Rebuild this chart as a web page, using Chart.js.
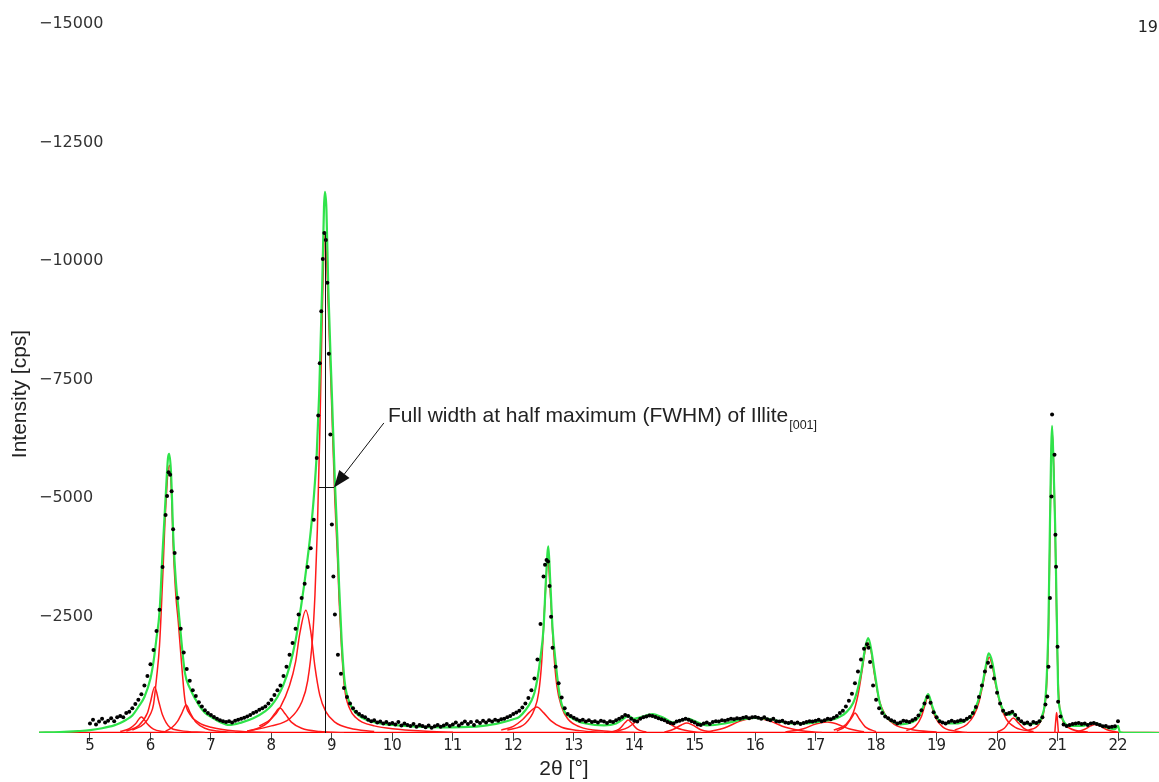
<!DOCTYPE html>
<html>
<head>
<meta charset="utf-8">
<title>XRD pattern</title>
<script src="https://cdn.jsdelivr.net/npm/chart.js@4.4.1/dist/chart.umd.min.js"></script>
<style>
  html, body { margin: 0; padding: 0; background: #fff; }
  #wrap { width: 1159px; height: 782px; }
</style>
</head>
<body>
<div id="wrap"><canvas id="xrd" width="1159" height="782"></canvas></div>
<script>
// --- axis ticks ---
const xTickValues = [5, 6, 7, 8, 9, 10, 11, 12, 13, 14, 15, 16, 17, 18, 19, 20, 21, 22];
const yTickValues = [0, 2500, 5000, 7500, 10000, 12500, 15000];
const yTickLabels = ['', '\u22122500', '\u22125000', '\u22127500', '\u221210000', '\u221212500', '\u221215000'];

// --- measured counts (scan start / step in degrees 2theta) ---
const scanStart = 5.0;
const scanStep = 0.05;
const counts = [
  200, 280, 180, 240, 300, 220, 260, 310, 250, 330, 360, 330, 420, 450, 520, 610, 700, 820, 1000, 1200,
  1450, 1750, 2150, 2600, 3500, 4600, 5500, 5100, 3800, 2850, 2200, 1700, 1350, 1100, 900, 780, 650, 560, 480, 420,
  380, 340, 300, 270, 250, 230, 250, 220, 260, 280, 300, 320, 350, 380, 420, 450, 490, 520, 560, 620,
  700, 800, 900, 1000, 1200, 1400, 1650, 1900, 2200, 2500, 2850, 3150, 3500, 3900, 4500, 5800, 7800, 10000, 10400, 8000,
  4400, 2500, 1650, 1250, 950, 760, 620, 520, 450, 400, 360, 330, 280, 250, 270, 220, 240, 200, 230, 190,
  210, 180, 230, 160, 200, 170, 150, 190, 130, 170, 150, 120, 160, 110, 140, 170, 130, 160, 190, 150,
  180, 220, 160, 200, 240, 190, 230, 170, 250, 210, 260, 220, 270, 240, 280, 260, 290, 300, 330, 360,
  400, 430, 470, 540, 620, 740, 900, 1150, 1550, 2300, 3300, 3650, 3100, 1800, 1400, 1050, 750, 520, 400, 360,
  320, 290, 260, 280, 240, 270, 230, 250, 220, 260, 240, 210, 250, 230, 270, 300, 340, 380, 360, 300,
  260, 240, 300, 330, 350, 370, 360, 340, 310, 290, 270, 230, 210, 200, 240, 260, 280, 300, 280, 250,
  220, 180, 170, 200, 220, 190, 230, 250, 240, 270, 260, 280, 300, 290, 310, 300, 320, 340, 310, 330,
  340, 320, 300, 330, 290, 270, 300, 250, 240, 260, 220, 210, 230, 200, 220, 190, 210, 230, 250, 240,
  260, 280, 250, 270, 300, 290, 320, 360, 420, 470, 560, 680, 830, 1050, 1300, 1550, 1780, 1870, 1500, 1000,
  700, 520, 420, 350, 310, 270, 240, 200, 220, 260, 250, 230, 270, 300, 370, 480, 620, 760, 640, 440,
  330, 250, 220, 200, 230, 260, 230, 250, 270, 260, 300, 340, 420, 550, 760, 1000, 1300, 1480, 1400, 1150,
  850, 620, 470, 400, 420, 450, 380, 300, 250, 200, 220, 180, 230, 210, 250, 330, 600, 1400, 4990, 5870,
  1820, 350, 180, 150, 170, 190, 200, 210, 190, 200, 170, 200, 210, 190, 170, 140, 150, 120, 130, 140,
  250
];
// extra scan points on the steep peak flanks
const flankPoints = [
  [6.275, 5000], [6.325, 5450], [6.375, 4300],
  [8.775, 6700], [8.825, 8900], [8.875, 10550], [8.925, 9500], [8.975, 6300], [9.025, 3300],
  [12.525, 3550], [12.575, 3620], [12.625, 2450], [17.875, 1800],
  [20.83, 770], [20.875, 2850], [20.91, 6720], [20.965, 4180], [20.975, 3510], [21.01, 660]
];

// --- fitted profile (green) ---
const fitCurve = [
  [4.157, 10], [4.5, 20], [4.8, 40], [5.0, 60], [5.2, 100], [5.4, 160], [5.5, 210], [5.6, 280], [5.7, 370],
  [5.8, 550], [5.9, 760], [6.0, 1150], [6.05, 1500], [6.1, 2000], [6.15, 2550], [6.2, 3800], [6.25, 4950],
  [6.29, 5800], [6.31, 5890], [6.34, 5500], [6.38, 4070], [6.42, 3200], [6.46, 2660], [6.5, 2100], [6.57, 1270],
  [6.65, 950], [6.75, 700], [6.82, 550], [6.9, 430], [7.0, 340], [7.15, 230], [7.3, 170], [7.5, 220], [7.7, 310],
  [7.9, 460], [8.0, 580], [8.1, 760], [8.2, 1020], [8.3, 1400], [8.4, 1950], [8.5, 2750], [8.55, 3200], [8.6, 3700],
  [8.65, 4250], [8.7, 4950], [8.75, 5900], [8.79, 7150], [8.84, 9430], [8.87, 11100], [8.886, 11415], [8.91, 11050],
  [8.94, 9430], [9.0, 7160], [9.05, 5300], [9.09, 4140], [9.12, 3100], [9.16, 2000], [9.21, 1100], [9.3, 620],
  [9.4, 420], [9.5, 320], [9.7, 230], [10.0, 170], [10.5, 130], [11.0, 120], [11.5, 150], [11.8, 220], [12.0, 290],
  [12.1, 340], [12.2, 480], [12.3, 680], [12.35, 850], [12.4, 1150], [12.45, 1600], [12.5, 2200], [12.54, 3230],
  [12.58, 3940], [12.61, 3230], [12.65, 2200], [12.7, 1500], [12.77, 770], [12.85, 450], [12.94, 340], [13.05, 260],
  [13.2, 200], [13.5, 160], [13.7, 200], [13.8, 280], [13.9, 360], [14.0, 300], [14.1, 330], [14.3, 400], [14.5, 310],
  [14.65, 220], [14.8, 280], [14.9, 300], [15.0, 250], [15.2, 160], [15.5, 200], [15.8, 290], [16.0, 320], [16.3, 280],
  [16.6, 200], [16.9, 210], [17.1, 250], [17.3, 290], [17.4, 344], [17.5, 430], [17.62, 633], [17.7, 950],
  [17.76, 1330], [17.82, 1800], [17.87, 2000], [17.92, 1750], [17.97, 1330], [18.06, 633], [18.15, 370], [18.23, 270],
  [18.4, 180], [18.6, 230], [18.7, 330], [18.78, 560], [18.86, 820], [18.93, 560], [19.0, 330], [19.1, 220],
  [19.3, 200], [19.5, 280], [19.6, 420], [19.68, 650], [19.75, 980], [19.82, 1450], [19.86, 1680], [19.92, 1500],
  [19.99, 980], [20.05, 650], [20.13, 420], [20.2, 380], [20.27, 420], [20.35, 280], [20.5, 190], [20.65, 200],
  [20.74, 344], [20.81, 907], [20.85, 2300], [20.875, 4420], [20.91, 6480], [20.935, 5600], [20.96, 4420],
  [20.99, 2300], [21.01, 907], [21.05, 450], [21.09, 274], [21.2, 150], [21.4, 150], [21.55, 200], [21.62, 210],
  [21.72, 160], [21.85, 100], [21.95, 80], [22.0, 150], [22.03, 20], [22.1, 5], [22.678, 0]
];

// --- single peak components (red) ---
const peak585 = [[5.5, 30], [5.65, 90], [5.75, 190], [5.85, 340], [5.95, 190], [6.05, 80], [6.2, 30], [6.5, 0]];
const peak607 = [[5.6, 40], [5.8, 150], [5.95, 420], [6.0, 650], [6.07, 970], [6.14, 650], [6.2, 380], [6.32, 120], [6.5, 50], [6.9, 10]];
const peak631 = [[5.7, 60], [5.9, 200], [6.0, 400], [6.05, 600], [6.1, 1150], [6.15, 1850], [6.2, 3200], [6.25, 4700], [6.31, 5650],
  [6.34, 5300], [6.38, 3850], [6.42, 2900], [6.46, 2350], [6.5, 1700], [6.57, 700], [6.65, 400], [6.8, 220], [7.0, 120], [7.4, 40], [8.0, 10]];
const peak659 = [[6.25, 40], [6.35, 110], [6.45, 250], [6.52, 420], [6.59, 590], [6.66, 420], [6.75, 230], [6.9, 100], [7.1, 40], [7.4, 10]];
const peak814 = [[7.6, 40], [7.8, 110], [7.95, 230], [8.05, 400], [8.14, 527], [8.23, 400], [8.33, 230], [8.5, 100], [8.8, 30], [9.2, 5]];
const peak857 = [[7.8, 150], [8.0, 300], [8.15, 550], [8.3, 1000], [8.4, 1500], [8.47, 2100], [8.57, 2590], [8.65, 2150], [8.72, 1400],
  [8.8, 800], [8.9, 450], [9.05, 230], [9.3, 100], [9.7, 30]];
const illite001 = [[7.6, 40], [8.0, 150], [8.3, 300], [8.5, 650], [8.6, 1100], [8.68, 2000], [8.72, 2900], [8.76, 4300], [8.8, 6300],
  [8.84, 8800], [8.886, 10571], [8.94, 9000], [9.0, 6800], [9.05, 4900], [9.09, 3800], [9.12, 2800], [9.16, 1800], [9.21, 950],
  [9.3, 500], [9.4, 320], [9.5, 230], [9.7, 150], [10.0, 90], [10.5, 40], [11.0, 15]];
const peak1239 = [[11.8, 60], [12.0, 140], [12.15, 280], [12.27, 440], [12.39, 549], [12.5, 430], [12.62, 260], [12.8, 120], [13.1, 50], [13.5, 10]];
const peak1257 = [[11.9, 60], [12.2, 200], [12.35, 500], [12.42, 850], [12.47, 1500], [12.52, 2700], [12.57, 3650], [12.62, 2800],
  [12.67, 1700], [12.72, 1000], [12.8, 550], [12.9, 300], [13.1, 130], [13.5, 40], [14.0, 10]];
const peak1390 = [[13.6, 20], [13.75, 80], [13.85, 220], [13.9, 274], [13.95, 220], [14.05, 80], [14.2, 20]];
const peak1426 = [[13.7, 30], [13.9, 120], [14.05, 260], [14.15, 340], [14.26, 380], [14.4, 330], [14.55, 220], [14.7, 110], [14.9, 40], [15.1, 10]];
const peak1487 = [[14.5, 20], [14.65, 80], [14.78, 170], [14.87, 211], [14.96, 170], [15.1, 70], [15.3, 15]];
const peak1600 = [[15.2, 20], [15.5, 110], [15.75, 250], [16.0, 316], [16.25, 250], [16.5, 120], [16.8, 40], [17.1, 10]];
const peak1719 = [[16.5, 20], [16.8, 90], [17.0, 190], [17.19, 232], [17.35, 190], [17.55, 90], [17.8, 25]];
const peak1765 = [[17.35, 40], [17.5, 150], [17.6, 330], [17.65, 420], [17.72, 300], [17.82, 130], [18.0, 30]];
const peak1787 = [[17.3, 60], [17.5, 180], [17.62, 420], [17.7, 800], [17.76, 1250], [17.82, 1750], [17.87, 1900], [17.92, 1700],
  [17.97, 1250], [18.05, 700], [18.15, 380], [18.3, 180], [18.6, 70], [19.0, 20]];
const peak1886 = [[18.5, 50], [18.65, 140], [18.75, 350], [18.81, 600], [18.86, 780], [18.91, 600], [18.98, 330], [19.1, 130], [19.3, 40], [19.5, 10]];
const peak1987 = [[19.3, 60], [19.5, 180], [19.62, 380], [19.7, 650], [19.77, 1050], [19.83, 1450], [19.87, 1600], [19.92, 1420],
  [19.98, 1000], [20.06, 580], [20.15, 300], [20.3, 120], [20.6, 30]];
const peak2027 = [[20.0, 20], [20.12, 100], [20.2, 230], [20.27, 316], [20.34, 230], [20.45, 90], [20.6, 20]];
const peak2091 = [[20.5, 50], [20.7, 200], [20.78, 500], [20.82, 1000], [20.85, 2100], [20.875, 4200], [20.91, 6400], [20.94, 5500],
  [20.96, 4300], [20.99, 2100], [21.02, 800], [21.07, 330], [21.2, 100], [21.5, 20]];
const peak2099 = [[20.955, 0], [20.97, 250], [20.985, 430], [21.0, 250], [21.015, 0]];
const peak2162 = [[21.3, 20], [21.45, 80], [21.55, 150], [21.62, 180], [21.7, 150], [21.82, 70], [22.0, 15]];
const baseLine = [[4.157, 0], [22.678, 0]];

const components = [peak585, peak607, peak631, peak659, peak814, peak857, illite001, peak1239, peak1257, peak1390,
  peak1426, peak1487, peak1600, peak1719, peak1765, peak1787, peak1886, peak1987, peak2027, peak2091, peak2099, peak2162];

// --- FWHM annotation of Illite [001] ---
const illitePeakX = 8.886;
const illitePeakTop = 10571;
const fwhmLevel = 5190;
const fwhmFrom = 8.787;
const fwhmTo = 9.035;
const arrowFrom = [9.86, 6541];
const labelAt = [9.928, 6562];
const labelText = 'Full width at half maximum (FWHM) of Illite';
const labelSub = '[001]';
const xTitle = '2\u03b8 [\u00b0]';
const yTitle = 'Intensity [cps]';

const toPts = arr => arr.map(([x, y]) => ({ x, y }));

const measured = counts.map((c, i) => ({ x: scanStart + i * scanStep, y: c }))
  .concat(toPts(flankPoints))
  .sort((a, b) => a.x - b.x);

const datasets = [];
datasets.push({
  data: measured,
  showLine: false,
  pointRadius: 2,
  pointBackgroundColor: '#000',
  pointBorderWidth: 0,
  order: 0
});
datasets.push({
  data: toPts(fitCurve),
  showLine: true,
  borderColor: '#2fe34a',
  borderWidth: 2.2,
  pointRadius: 0,
  cubicInterpolationMode: 'monotone',
  order: 1
});
components.forEach(c => {
  datasets.push({
    data: toPts(c),
    showLine: true,
    borderColor: '#ff1a1a',
    borderWidth: 1.5,
    pointRadius: 0,
    cubicInterpolationMode: 'monotone',
    order: 2
  });
});
datasets.push({
  data: toPts(baseLine),
  showLine: true,
  borderColor: '#ff0000',
  borderWidth: 2.5,
  pointRadius: 0,
  order: 2
});

const annotate = {
  id: 'annotate',
  afterDatasetsDraw(chart) {
    const { ctx, scales: { x, y } } = chart;
    ctx.save();
    ctx.strokeStyle = '#111';
    ctx.fillStyle = '#111';
    ctx.lineWidth = 1;

    // FWHM marker lines
    const vx = Math.round(x.getPixelForValue(illitePeakX)) + 0.5;
    const hy = Math.round(y.getPixelForValue(fwhmLevel)) + 0.5;
    ctx.beginPath();
    ctx.moveTo(vx, y.getPixelForValue(0));
    ctx.lineTo(vx, y.getPixelForValue(illitePeakTop));
    ctx.moveTo(x.getPixelForValue(fwhmFrom), hy);
    ctx.lineTo(x.getPixelForValue(fwhmTo), hy);
    ctx.stroke();

    // arrow
    const tx = x.getPixelForValue(arrowFrom[0]);
    const ty = y.getPixelForValue(arrowFrom[1]);
    const ax = x.getPixelForValue(fwhmTo);
    const ay = hy;
    const ang = Math.atan2(ay - ty, ax - tx);
    const headLen = 17, headW = 6.5;
    const bx = ax - headLen * Math.cos(ang);
    const by = ay - headLen * Math.sin(ang);
    ctx.beginPath();
    ctx.moveTo(tx, ty);
    ctx.lineTo(bx, by);
    ctx.stroke();
    ctx.beginPath();
    ctx.moveTo(ax, ay);
    ctx.lineTo(bx + headW * Math.sin(ang), by - headW * Math.cos(ang));
    ctx.lineTo(bx - headW * Math.sin(ang), by + headW * Math.cos(ang));
    ctx.closePath();
    ctx.fill();

    // label with subscript
    ctx.fillStyle = '#222';
    ctx.textBaseline = 'alphabetic';
    ctx.font = '21px "Liberation Sans", Arial, sans-serif';
    const lx = x.getPixelForValue(labelAt[0]);
    const ly = y.getPixelForValue(labelAt[1]);
    ctx.fillText(labelText, lx, ly);
    const w = ctx.measureText(labelText).width;
    ctx.font = '12.5px "Liberation Sans", Arial, sans-serif';
    ctx.fillText(labelSub, lx + w + 1, ly + 7);

    // axis titles
    ctx.font = '21px "Liberation Sans", Arial, sans-serif';
    ctx.textAlign = 'center';
    ctx.textBaseline = 'middle';
    ctx.fillText(xTitle, 564, 769);
    ctx.save();
    ctx.translate(20, 394);
    ctx.rotate(-Math.PI / 2);
    ctx.fillText(yTitle, 0, 0);
    ctx.restore();

    // page number
    ctx.font = '16px "DejaVu Sans", sans-serif';
    ctx.textAlign = 'right';
    ctx.textBaseline = 'alphabetic';
    ctx.fillText('19', chart.width - 1, 32);
    ctx.restore();
  }
};

new Chart(document.getElementById('xrd'), {
  type: 'scatter',
  data: { datasets },
  plugins: [annotate],
  options: {
    responsive: false,
    animation: false,
    devicePixelRatio: 1,
    layout: { autoPadding: false, padding: { top: 22, right: 0, bottom: 31, left: 39 } },
    plugins: { legend: { display: false }, tooltip: { enabled: false } },
    scales: {
      x: {
        type: 'linear',
        min: 4.157,
        max: 22.678,
        afterBuildTicks: axis => { axis.ticks = xTickValues.map(v => ({ value: v })); },
        grid: { drawOnChartArea: false, drawTicks: true, tickLength: 8, tickColor: '#444', tickWidth: 1 },
        border: { display: false },
        ticks: {
          autoSkip: false, maxRotation: 0, padding: -4,
          color: '#222',
          font: { family: 'DejaVu Sans', size: 15 }
        }
      },
      y: {
        min: 0,
        max: 15000,
        afterBuildTicks: axis => { axis.ticks = yTickValues.map(v => ({ value: v })); },
        grid: { display: false, drawTicks: false },
        border: { display: false },
        ticks: {
          mirror: true, padding: 0, labelOffset: 2,
          color: '#333',
          font: { family: 'DejaVu Sans', size: 16 },
          callback: v => yTickLabels[yTickValues.indexOf(v)] ?? ''
        }
      }
    }
  }
});
</script>
</body>
</html>
